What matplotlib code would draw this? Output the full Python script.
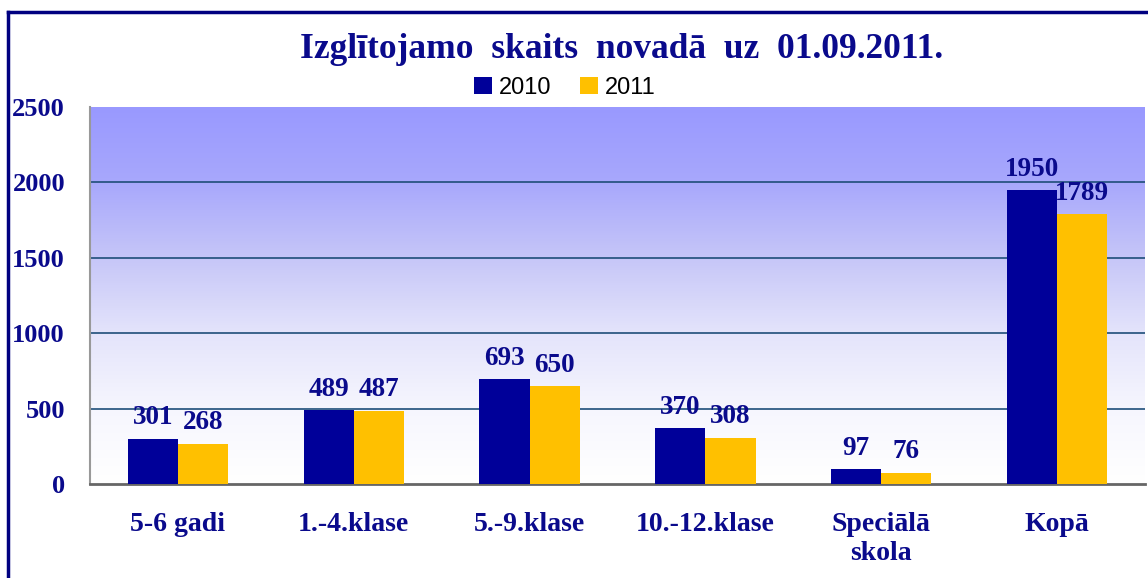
import matplotlib.pyplot as plt
import numpy as np
from matplotlib.lines import Line2D
from matplotlib.colors import LinearSegmentedColormap

# Dati
kategorijas = ['5-6 gadi', '1.-4.klase', '5.-9.klase', '10.-12.klase', 'Speciālā\nskola', 'Kopā']
v2010 = [301, 489, 693, 370, 97, 1950]
v2011 = [268, 487, 650, 308, 76, 1789]
gadi = ['2010', '2011']

c2010 = '#000099'
c2011 = '#FFC000'
teksts = '#0A0A8C'
serif = ['Liberation Serif', 'DejaVu Serif']

fig = plt.figure(figsize=(11.48, 5.78), dpi=100)
ax = fig.add_axes([90/1148, 1-484/578, 1055/1148, (484-107)/578])

# fona gradients
cmap = LinearSegmentedColormap.from_list('bg', [(0, '#FFFFFF'), (0.2, '#F6F6FE'), (0.4, '#E4E4FB'),
                                                (0.6, '#C6C6F8'), (0.8, '#A8A8FC'), (1, '#9999FF')])
grad = np.linspace(0, 1, 256).reshape(-1, 1)
ax.imshow(grad, aspect='auto', cmap=cmap, origin='lower',
          extent=(-0.5, 5.5, 0, 2500), zorder=0)

x = np.arange(len(kategorijas))
w = 0.285
b1 = ax.bar(x - w/2, v2010, w, color=c2010, label=gadi[0], zorder=3)
b2 = ax.bar(x + w/2, v2011, w, color=c2011, label=gadi[1], zorder=3)

for bars, vals in ((b1, v2010), (b2, v2011)):
    for r, v in zip(bars, vals):
        ax.annotate(str(v), (r.get_x() + r.get_width()/2, v), xytext=(0, 6),
                    textcoords='offset points', ha='center', va='bottom',
                    fontsize=19.5, fontweight='bold', color=teksts, family=serif, zorder=4)

ax.set_xlim(-0.5, 5.5)
ax.set_ylim(0, 2500)
ax.set_yticks(range(0, 2501, 500))
for yv in range(500, 2001, 500):
    ax.axhline(yv, color='#1F4E79', lw=1.2, zorder=1)

ax.set_xticks(x)
ax.set_xticklabels(kategorijas, fontsize=20, fontweight='bold', color=teksts,
                   family=serif, linespacing=1.2, va='top')
for lab in ax.get_yticklabels():
    lab.set_fontsize(19)
    lab.set_fontweight('bold')
    lab.set_color(teksts)
    lab.set_family(serif)
ax.tick_params(axis='both', length=0)
ax.tick_params(axis='y', pad=18)
ax.tick_params(axis='x', pad=20)

for s in ['top', 'right']:
    ax.spines[s].set_visible(False)
ax.spines['left'].set_color('#999999')
ax.spines['left'].set_linewidth(1.5)
ax.spines['bottom'].set_color('#666666')
ax.spines['bottom'].set_linewidth(2)

fig.text(622/1148, 1-50/578, 'Izglītojamo  skaits  novadā  uz  01.09.2011.',
         ha='center', va='center', fontsize=25.5, fontweight='bold', color=teksts, family=serif)

leg = fig.legend(handles=[b1, b2], labels=gadi, loc='center', bbox_to_anchor=(565/1148, 1-88/578),
                 ncol=2, frameon=False, handlelength=0.75, handleheight=0.75,
                 handletextpad=0.3, columnspacing=1.2, prop={'family': 'Liberation Sans', 'size': 17})

# rāmis
fig.add_artist(Line2D([8/1148, 8/1148], [0, 1-12/578], color='#000080', lw=2.5, transform=fig.transFigure))
fig.add_artist(Line2D([8/1148, 1], [1-12/578, 1-12/578], color='#000080', lw=2.5, transform=fig.transFigure))

fig.savefig('out.png', dpi=100)
